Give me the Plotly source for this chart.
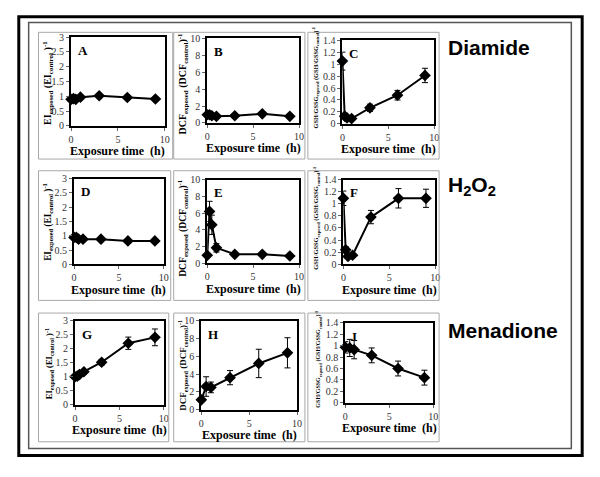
import plotly.graph_objects as go

W, H = 600, 477

# ---------------- data ----------------
t7 = [0, 0.25, 0.5, 1, 3, 6, 9]
t6 = [0, 0.5, 1, 3, 6, 9]

A_y = [0.90, 0.92, 0.90, 0.97, 1.02, 0.96, 0.91]
A_err = [0.05, 0.06, 0.07, 0.05, 0.05, 0.06, 0.06]
B_y = [0.97, 0.97, 0.85, 0.78, 0.85, 1.08, 0.78]
B_err = [0.2, 0.15, 0.15, 0.1, 0.15, 0.2, 0.15]
C_y = [1.05, 0.13, 0.10, 0.09, 0.27, 0.48, 0.81]
C_err = [0.15, 0.03, 0.03, 0.03, 0.06, 0.08, 0.12]
D_y = [0.94, 0.94, 0.88, 0.88, 0.88, 0.82, 0.82]
D_err = [0.05, 0.05, 0.05, 0.05, 0.05, 0.06, 0.06]
E_y = [0.96, 6.2, 4.6, 1.85, 1.08, 1.08, 0.88]
E_err = [0.1, 1.2, 1.15, 0.5, 0.15, 0.15, 0.1]
F_y = [1.09, 0.24, 0.13, 0.15, 0.78, 1.09, 1.09]
F_err = [0.12, 0.05, 0.03, 0.03, 0.11, 0.16, 0.15]
G_y = [1.0, 1.02, 1.08, 1.18, 1.52, 2.2, 2.41]
G_err = [0.05, 0.06, 0.07, 0.08, 0.1, 0.22, 0.3]
H_y = [1.1, 2.6, 2.5, 3.6, 5.2, 6.4]
H_err = [0.2, 1.1, 0.6, 0.8, 1.6, 1.7]
I_y = [0.97, 0.96, 0.93, 0.83, 0.60, 0.44]
I_err = [0.1, 0.15, 0.16, 0.13, 0.13, 0.13]

x_ticks = [0, 5, 10]
ei_ticks = [0, 0.5, 1, 1.5, 2, 2.5, 3]
dcf_ticks = [0, 2, 4, 6, 8, 10]
gsh_ticks = [0, 0.2, 0.4, 0.6, 0.8, 1, 1.2, 1.4]

treatments = ["Diamide", "H<sub>2</sub>O<sub>2</sub>", "Menadione"]
letters = ["A", "B", "C", "D", "E", "F", "G", "H", "I"]

EI_T = "<b>EI<sub>exposed</sub> (EI<sub>control</sub> )<sup>-1</sup></b>"
DCF_T = "<b>DCF<sub>exposed</sub> (DCF<sub>control</sub>)<sup>-1</sup></b>"
GSH_T = "<b>GSH/GSSG<sub>exposed</sub> (GSH/GSSG<sub>control</sub>)<sup>-1</sup></b>"

# ---------------- layout geometry (pixels) ----------------
def px(x): return x / W
def py(y): return 1 - y / H

# plot boxes: x0, x1, y0(top), y1(bottom)
boxes = [
    (69, 164, 32, 123), (207, 300, 33, 120), (344, 437, 35, 121),
    (72, 163, 177, 265), (207, 300, 178, 264), (345, 438, 178, 265),
    (73, 163, 323, 409), (201, 298, 323, 414), (347, 436, 325, 407),
]
# panel frames
frames = [
    (36, 172, 27, 157), (173, 306, 27, 157), (309, 442, 27, 157),
    (36, 170, 169, 302), (173, 306, 169, 302), (309, 442, 169, 302),
    (36, 168, 315, 447), (173, 306, 315, 447), (309, 442, 315, 447),
]
ytitle_x = [45, 182, 317, 45, 182, 317, 47, 182, 320]
ytitle_dy = [1, 3.5, -4.5, 0, 7, -4, 1, 0, -4]
ytitle_size = [10, 10, 6.3, 9.3, 9.6, 6.4, 8.5, 9, 6]

series = [
    (t7, A_y, A_err, [0, 3], ei_ticks, EI_T),
    (t7, B_y, B_err, [0, 10], dcf_ticks, DCF_T),
    (t7, C_y, C_err, [0, 1.4], gsh_ticks, GSH_T),
    (t7, D_y, D_err, [0, 3], ei_ticks, EI_T),
    (t7, E_y, E_err, [0, 10], dcf_ticks, DCF_T),
    (t7, F_y, F_err, [0, 1.4], gsh_ticks, GSH_T),
    (t7, G_y, G_err, [0, 3], ei_ticks, EI_T),
    (t6, H_y, H_err, [0, 10], dcf_ticks, DCF_T),
    (t6, I_y, I_err, [0, 1.4], gsh_ticks, GSH_T),
]

fig = go.Figure()
layout = dict(
    width=W, height=H, margin=dict(l=0, r=0, t=0, b=0),
    paper_bgcolor="white", plot_bgcolor="white", showlegend=False,
)
shapes = []
annotations = []

tickfont = dict(family="Liberation Serif", size=10, color="#333333")

for i, (xs, ys, es, yr, yt, ytitle) in enumerate(series):
    n = "" if i == 0 else str(i + 1)
    x0, x1, y0, y1 = boxes[i]
    fig.add_trace(go.Scatter(
        x=xs, y=ys, mode="lines+markers",
        line=dict(color="black", width=2),
        marker=dict(symbol="diamond", size=9, color="black"),
        error_y=dict(type="data", array=es, visible=True, color="black",
                     thickness=1, width=3),
        cliponaxis=False,
        xaxis="x" + n, yaxis="y" + n,
    ))
    layout["xaxis" + n] = dict(
        domain=[px(x0), px(x1)], range=[0, 10], tickvals=x_ticks,
        showline=True, mirror=True, linecolor="black", linewidth=2,
        ticks="outside", ticklen=3, tickcolor="#666666", showgrid=False,
        zeroline=False, tickfont=tickfont, anchor="y" + n, fixedrange=True,
    )
    layout["yaxis" + n] = dict(
        domain=[py(y1), py(y0)], range=yr, tickvals=yt,
        showline=True, mirror=True, linecolor="black", linewidth=2,
        ticks="outside", ticklen=3, tickcolor="#666666", showgrid=False,
        zeroline=False, tickfont=tickfont, anchor="x" + n, fixedrange=True,
    )
    # panel frame
    fx0, fx1, fy0, fy1 = frames[i]
    shapes.append(dict(type="rect", xref="paper", yref="paper",
                       x0=px(fx0), x1=px(fx1), y0=py(fy1), y1=py(fy0),
                       line=dict(color="#a8a8a8", width=1)))
    # panel letter
    annotations.append(dict(
        text="<b>%s</b>" % letters[i], xref="paper", yref="paper",
        x=px(x0 + 5), y=py(y0 + 4), xanchor="left", yanchor="top",
        showarrow=False, font=dict(family="Liberation Serif", size=13, color="black")))
    # x title
    annotations.append(dict(
        text="<b>Exposure time  (h)</b>", xref="paper", yref="paper",
        x=px((x0 + x1) / 2), y=py(y1 + 26), xanchor="center", yanchor="middle",
        showarrow=False, font=dict(family="Liberation Serif", size=12, color="black")))
    # y title
    annotations.append(dict(
        text=ytitle, xref="paper", yref="paper", textangle=-90,
        x=px(ytitle_x[i]), y=py((y0 + y1) / 2 + ytitle_dy[i]),
        xanchor="center", yanchor="middle", showarrow=False,
        font=dict(family="Liberation Serif", size=ytitle_size[i], color="black")))

# treatment labels
for lab, yc in zip(treatments, [43, 185, 333]):
    annotations.append(dict(
        text="<b>%s</b>" % lab, xref="paper", yref="paper",
        x=px(449), y=py(yc), xanchor="left", yanchor="middle", showarrow=False,
        font=dict(family="Liberation Sans", size=21, color="black")))

# outer frames
shapes.append(dict(type="rect", xref="paper", yref="paper",
                   x0=px(16), x1=px(587), y0=py(461), y1=py(11),
                   line=dict(color="black", width=3)))
shapes.append(dict(type="rect", xref="paper", yref="paper",
                   x0=px(26), x1=px(576), y0=py(454), y1=py(17),
                   line=dict(color="#555555", width=1.5)))

layout["shapes"] = shapes
layout["annotations"] = annotations
fig.update_layout(**layout)
fig.write_html(
    "out.html",
    config={"displayModeBar": False},
    post_script="document.body.style.margin='0';document.body.style.overflow='hidden';",
)
